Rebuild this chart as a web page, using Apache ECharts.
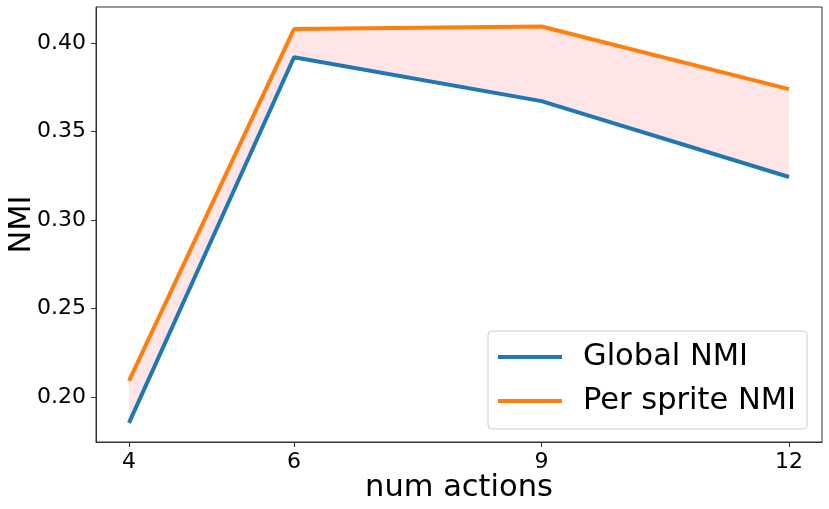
<!DOCTYPE html>
<html>
<head>
<meta charset="utf-8">
<script src="https://cdn.jsdelivr.net/npm/echarts@6/dist/echarts.min.js"></script>
<style>
    html, body { margin: 0; padding: 0; background: #fff; }
    #chart { width: 829px; height: 509px; }
</style>
</head>
<body>
<div id="chart"></div>
<script>
    // num actions
    const numActions = [4, 6, 9, 12];
    const globalNmi = [0.1853, 0.392, 0.3672, 0.3243];
    const perSpriteNmi = [0.209, 0.4079, 0.4094, 0.3740];
    const xTicks = [4, 6, 9, 12];
    const yTicks = [0.2, 0.25, 0.3, 0.35, 0.4];

    const pairs = (ys) => numActions.map((x, i) => [x, ys[i]]);
    const bandData = numActions.map((x, i) => [x, globalNmi[i], perSpriteNmi[i]]);

    const font = 'DejaVu Sans';
    const chart = echarts.init(document.getElementById('chart'));
    chart.setOption({
        animation: false,
        grid: {
            left: 96,
            right: 7,
            top: 7,
            bottom: 67,
            outerBoundsMode: 'none',
            show: true,
            borderColor: '#333',
            borderWidth: 1
        },
        legend: {
            data: ['Global NMI', 'Per sprite NMI'],
            orient: 'vertical',
            left: 488,
            top: 331,
            padding: [8, 11, 10, 10],
            itemGap: 8,
            itemWidth: 64,
            itemHeight: 4,
            icon: 'rect',
            backgroundColor: 'rgba(255,255,255,0.8)',
            borderColor: '#ccc',
            borderWidth: 1,
            borderRadius: 4,
            textStyle: {
                fontFamily: font,
                fontSize: 30.5,
                color: '#000',
                lineHeight: 36,
                padding: [0, 0, 0, 16]
            }
        },
        xAxis: {
            type: 'value',
            min: 3.6,
            max: 12.4,
            name: 'num actions',
            nameLocation: 'middle',
            nameGap: 31,
            nameMoveOverlap: false,
            nameTextStyle: { fontFamily: font, fontSize: 30.5, color: '#000' },
            splitLine: { show: false },
            axisLine: { show: true, lineStyle: { color: '#333' } },
            axisTick: { show: true, customValues: xTicks, length: 5, lineStyle: { color: '#333' } },
            axisLabel: {
                customValues: xTicks,
                fontFamily: font,
                fontSize: 22,
                color: '#000',
                margin: 9
            }
        },
        yAxis: {
            type: 'value',
            min: 0.1745,
            max: 0.4204,
            name: 'NMI',
            nameLocation: 'middle',
            nameGap: 58,
            nameMoveOverlap: false,
            nameTextStyle: { fontFamily: font, fontSize: 30.5, color: '#000' },
            splitLine: { show: false },
            axisLine: { show: true, lineStyle: { color: '#333' } },
            axisTick: { show: true, customValues: yTicks, length: 5, lineStyle: { color: '#333' } },
            axisLabel: {
                customValues: yTicks,
                formatter: (v) => v.toFixed(2),
                fontFamily: font,
                fontSize: 22,
                color: '#000',
                margin: 10
            }
        },
        series: [
            {
                name: 'band',
                type: 'custom',
                data: bandData,
                encode: { x: 0, y: [1, 2] },
                silent: true,
                z: 1,
                renderItem: (params, api) => {
                    if (params.dataIndex !== 0) {
                        return;
                    }
                    const lower = bandData.map((d) => api.coord([d[0], d[1]]));
                    const upper = bandData.map((d) => api.coord([d[0], d[2]])).reverse();
                    return {
                        type: 'polygon',
                        shape: { points: lower.concat(upper) },
                        style: { fill: 'rgba(255,0,0,0.1)' }
                    };
                }
            },
            {
                name: 'Global NMI',
                type: 'line',
                data: pairs(globalNmi),
                symbol: 'none',
                lineStyle: { width: 4, color: '#1f77b4' },
                itemStyle: { color: '#1f77b4' },
                z: 3
            },
            {
                name: 'Per sprite NMI',
                type: 'line',
                data: pairs(perSpriteNmi),
                symbol: 'none',
                lineStyle: { width: 4, color: '#ff7f0e' },
                itemStyle: { color: '#ff7f0e' },
                z: 3
            }
        ]
    });
</script>
</body>
</html>
